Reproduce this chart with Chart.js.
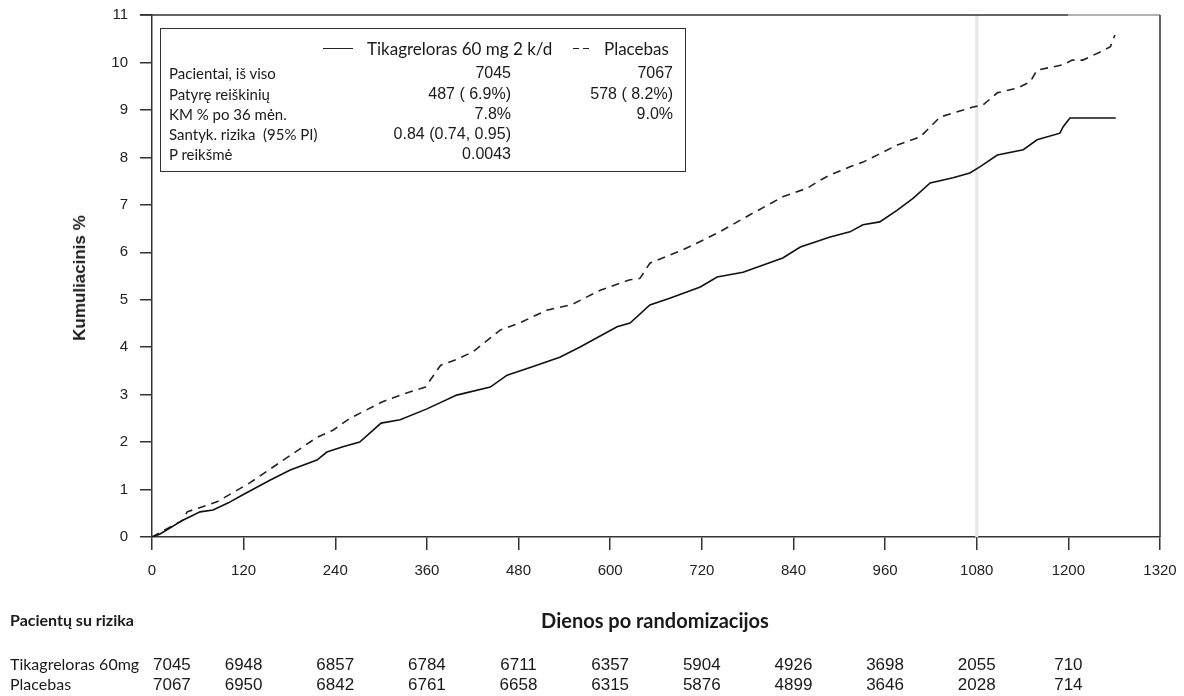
<!DOCTYPE html>
<html lang="lt">
<head>
<meta charset="utf-8">
<title>Kumuliacinis %</title>
<script src="https://cdn.jsdelivr.net/npm/chart.js@4.4.1/dist/chart.umd.min.js"></script>
<style>
  html, body { margin: 0; padding: 0; background: #fff; }
  #wrap { position: relative; width: 1184px; height: 696px; overflow: hidden; }
  #chart { position: absolute; left: 0; top: 0; }
  .txt { position: absolute; white-space: pre; color: #1a1a1a; line-height: 1; transform: translateY(-50%); }
  .cal { font-family: Lato, "Open Sans", sans-serif; }
  .ari { font-family: "Liberation Sans", Arial, sans-serif; }
  .right { transform: translate(-100%, -50%); }
  .center { transform: translate(-50%, -50%); }
  #box { position: absolute; left: 160px; top: 28px; width: 526px; height: 144px; border: 1.5px solid #333; box-sizing: border-box; }
  .seg { position: absolute; height: 0; border-top: 1.5px solid #222; }
  #ytitle { position: absolute; left: 80px; top: 278px; transform: translate(-50%, -50%) rotate(-90deg);
            font: bold 17px "Liberation Sans", Arial, sans-serif; color: #1a1a1a; white-space: nowrap; }
</style>
</head>
<body>
<div id="wrap">
  <canvas id="chart" width="1184" height="696"></canvas>
  <div id="ytitle">Kumuliacinis %</div>
  <div id="box"></div>
  <div id="below"></div>
</div>
<script>
// Kaplan-Meier curves (days, cumulative %)
const ticaDays = [0, 10, 41, 63, 80, 100, 119, 155, 181, 216, 229, 250, 272, 300, 325, 360, 399, 443, 465, 500, 534, 560,
  609, 626, 652, 678, 718, 740, 774, 826, 849, 888, 914, 931, 953, 976, 997, 1019, 1049, 1071, 1084, 1107, 1141,
  1159, 1189, 1193, 1202, 1262];
const ticaPct = [0, 0.06, 0.36, 0.53, 0.57, 0.72, 0.89, 1.2, 1.41, 1.62, 1.79, 1.9, 2.0, 2.4, 2.47, 2.7, 2.99, 3.16, 3.41, 3.6, 3.79, 4.0,
  4.43, 4.51, 4.89, 5.03, 5.27, 5.48, 5.58, 5.88, 6.11, 6.32, 6.43, 6.58, 6.64, 6.89, 7.14, 7.46, 7.57, 7.67, 7.8, 8.05, 8.16,
  8.37, 8.51, 8.64, 8.83, 8.83];

const placDays = [0, 41, 46, 85, 128, 172, 216, 237, 259, 302, 325, 358, 378, 400, 420, 456, 480, 517, 550, 587, 626, 639,
  652, 695, 740, 783, 826, 858, 875, 888, 914, 931, 976, 1006, 1032, 1075, 1088, 1107, 1133, 1150, 1159, 1193, 1205,
  1219, 1239, 1255, 1261];
const placPct = [0, 0.36, 0.53, 0.74, 1.14, 1.62, 2.1, 2.25, 2.5, 2.85, 2.99, 3.16, 3.62, 3.75, 3.9, 4.36, 4.5, 4.78, 4.9, 5.2, 5.42, 5.45,
  5.77, 6.05, 6.4, 6.79, 7.17, 7.35, 7.52, 7.63, 7.8, 7.9, 8.26, 8.43, 8.85, 9.06, 9.1, 9.36, 9.46, 9.59, 9.84, 9.95, 10.05,
  10.05, 10.2, 10.33, 10.58];

const xTicks = [0, 120, 240, 360, 480, 600, 720, 840, 960, 1080, 1200, 1320];
const yTicks = [0, 1, 2, 3, 4, 5, 6, 7, 8, 9, 10, 11];
const refDay = 1080;

// summary box
const seriesNames = ['Tikagreloras 60 mg 2 k/d', 'Placebas'];
const summaryLabels = ['Pacientai, iš viso', 'Patyrę reiškinių', 'KM % po 36 mėn.', 'Santyk. rizika  (95% PI)', 'P reikšmė'];
const ticaSummary = ['7045', '487 ( 6.9%)', '7.8%', '0.84 (0.74, 0.95)', '0.0043'];
const placSummary = ['7067', '578 ( 8.2%)', '9.0%', '', ''];

// numbers at risk
const riskDays = [0, 120, 240, 360, 480, 600, 720, 840, 960, 1080, 1200];
const riskNames = ['Tikagreloras 60mg', 'Placebas'];
const ticaRisk = [7045, 6948, 6857, 6784, 6711, 6357, 5904, 4926, 3698, 2055, 710];
const placRisk = [7067, 6950, 6842, 6761, 6658, 6315, 5876, 4899, 3646, 2028, 714];

const toXY = (xs, ys) => xs.map((d, i) => ({ x: d, y: ys[i] }));

const framePlugin = {
  id: 'frame',
  beforeDatasetsDraw(chart) {
    const { ctx, chartArea: a, scales: { x } } = chart;
    const px = x.getPixelForValue(refDay);
    ctx.save();
    ctx.strokeStyle = '#e8e8e8';
    ctx.lineWidth = 3;
    ctx.beginPath();
    ctx.moveTo(px, a.top);
    ctx.lineTo(px, a.bottom);
    ctx.stroke();
    ctx.restore();
  },
  afterDraw(chart) {
    const { ctx, chartArea: a, scales: { x } } = chart;
    const mid = x.getPixelForValue(1200);
    ctx.save();
    ctx.lineWidth = 1.5;
    ctx.strokeStyle = '#333';
    ctx.beginPath();
    ctx.moveTo(a.left - 12, a.top);
    ctx.lineTo(mid, a.top);
    ctx.stroke();
    ctx.strokeStyle = '#999';
    ctx.beginPath();
    ctx.moveTo(mid, a.top);
    ctx.lineTo(a.right, a.top);
    ctx.stroke();
    ctx.strokeStyle = '#333';
    ctx.beginPath();
    ctx.moveTo(a.right, a.top);
    ctx.lineTo(a.right, a.bottom);
    ctx.stroke();
    ctx.restore();
  }
};

const axisGrid = {
  display: true,
  drawOnChartArea: false,
  drawTicks: true,
  tickLength: 12,
  tickColor: '#333',
  lineWidth: 1.5
};

// fixed axis sizes so the plot area lands where the original has it
function fixBox(s, size) {
  if (s.isHorizontal()) s.height = size; else s.width = size;
  s.paddingTop = 0; s.paddingBottom = 0; s.paddingLeft = 0; s.paddingRight = 0;
}

const chart = new Chart(document.getElementById('chart'), {
  type: 'line',
  data: {
    datasets: [{
      label: seriesNames[0],
      data: toXY(ticaDays, ticaPct),
      borderColor: '#111',
      borderWidth: 1.6,
      pointRadius: 0,
      tension: 0
    }, {
      label: seriesNames[1],
      data: toXY(placDays, placPct),
      borderColor: '#222',
      borderWidth: 1.6,
      borderDash: [8, 6],
      pointRadius: 0,
      tension: 0
    }]
  },
  options: {
    responsive: false,
    animation: false,
    layout: { padding: { top: 15, right: 24, left: 0, bottom: 0 } },
    plugins: { legend: { display: false }, tooltip: { enabled: false } },
    scales: {
      x: {
        type: 'linear',
        min: 0,
        max: 1320,
        afterBuildTicks: (s) => { s.ticks = xTicks.map(v => ({ value: v })); },
        afterFit: (s) => fixBox(s, 159),
        grid: { ...axisGrid, tickLength: 13 },
        border: { display: true, color: '#333', width: 1.5 },
        ticks: { color: '#222', padding: 12, maxRotation: 0, callback: (v) => String(v),
                 font: { family: 'Liberation Sans', size: 15 } }
      },
      y: {
        min: 0,
        max: 11,
        afterBuildTicks: (s) => { s.ticks = yTicks.map(v => ({ value: v })); },
        afterFit: (s) => fixBox(s, 152),
        grid: axisGrid,
        border: { display: true, color: '#333', width: 1.5 },
        ticks: { color: '#222', padding: 12, callback: (v) => String(v),
                 font: { family: 'Liberation Sans', size: 15 } }
      }
    }
  },
  plugins: [framePlugin]
});

// summary box content
function addText(parent, text, left, top, cls, size, extra) {
  const el = document.createElement('div');
  el.className = 'txt ' + cls;
  el.textContent = text;
  el.style.left = left + 'px';
  el.style.top = top + 'px';
  el.style.fontSize = size + 'px';
  if (extra) Object.assign(el.style, extra);
  parent.appendChild(el);
  return el;
}

const box = document.getElementById('box');
const bx = 160, by = 28;
const legSolid = document.createElement('div');
legSolid.className = 'seg';
Object.assign(legSolid.style, { left: (322 - bx) + 'px', top: (47 - by) + 'px', width: '30px' });
box.appendChild(legSolid);
addText(box, seriesNames[0], 366 - bx, 47 - by, 'cal', 17);
[572, 582].forEach(x0 => {
  const d = document.createElement('div');
  d.className = 'seg';
  Object.assign(d.style, { left: (x0 - bx) + 'px', top: (47 - by) + 'px', width: '6px' });
  box.appendChild(d);
});
addText(box, seriesNames[1], 603 - bx, 47 - by, 'cal', 17);

const rowY = [72, 93, 113, 133, 153];
summaryLabels.forEach((lab, i) => {
  addText(box, lab, 168 - bx, rowY[i] - by, 'cal', 15);
  addText(box, ticaSummary[i], 510 - bx, rowY[i] - by, 'ari right', 16);
  if (placSummary[i]) addText(box, placSummary[i], 672 - bx, rowY[i] - by, 'ari right', 16);
});

// titles and numbers at risk, placed with the x scale
const below = document.getElementById('below');
const xs = chart.scales.x;
addText(below, 'Pacientų su rizika', 10, 620, 'cal', 16, { fontWeight: 'bold' });
addText(below, 'Dienos po randomizacijos', 655, 620, 'cal center', 20, { fontWeight: 'bold' });
const riskY = [664, 684];
[ticaRisk, placRisk].forEach((row, r) => {
  addText(below, riskNames[r], 10, riskY[r], 'cal', 16);
  row.forEach((n, i) => {
    const px = xs.getPixelForValue(riskDays[i]);
    if (i === 0) addText(below, String(n), px + 1, riskY[r], 'ari', 17);
    else addText(below, String(n), px, riskY[r], 'ari center', 17);
  });
});
</script>
</body>
</html>
